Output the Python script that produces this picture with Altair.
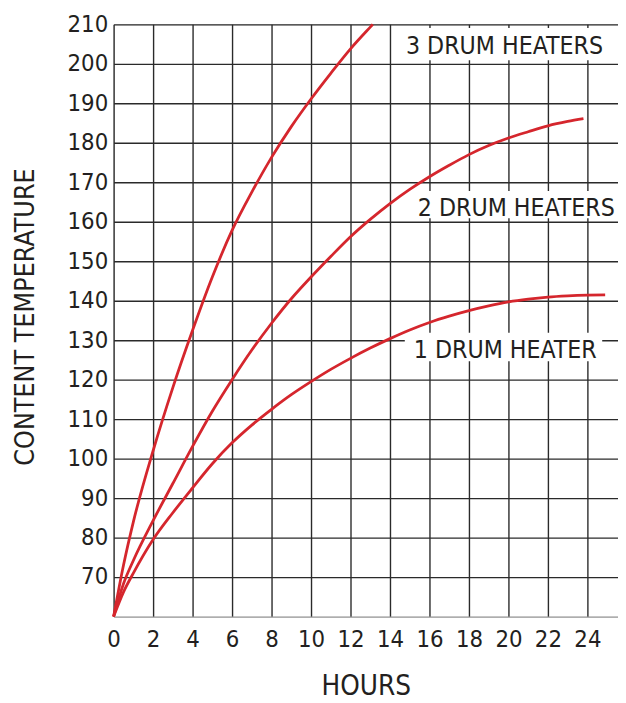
import altair as alt
import pandas as pd

FONT = "DejaVu Sans Condensed, Liberation Sans Narrow, sans-serif"
RED = "#d5262d"
INK = "#231f20"
GRID = "#2a2a2a"

# --- data ---
hours_3 = [0, 0.5, 1, 2, 3, 4, 5, 6, 7, 8, 9, 10, 11, 12, 13, 13.13]
temp_3 = [60, 73, 84, 102, 118, 132.5, 146, 157.8, 167.5, 176.3, 184.1, 191.1, 197.6, 203.8, 209.3, 210]

hours_2 = [0, 0.5, 1, 2, 3, 4, 5, 6, 7, 8, 9, 10, 11, 12, 13, 14, 15, 16, 17, 18, 19, 20, 21, 22, 23, 23.8]
temp_2 = [60, 68.3, 74.2, 84.3, 93.7, 103.1, 112, 120, 127.5, 134.3, 140.5, 146, 151.2, 156.2, 160.6,
          164.6, 168.2, 171.4, 174.3, 177, 179.3, 181.2, 182.8, 184.3, 185.4, 186.1]

hours_1 = [0, 0.5, 1, 2, 3, 4, 5, 6, 7, 8, 9, 10, 11, 12, 13, 14, 15, 16, 17, 18, 19, 20, 21, 22, 23, 24, 24.9]
temp_1 = [60, 66.2, 71, 79.5, 86.3, 92.6, 98.7, 104, 108.5, 112.5, 116.2, 119.5, 122.6, 125.4, 128,
          130.4, 132.6, 134.5, 136.1, 137.5, 138.7, 139.7, 140.4, 140.9, 141.2, 141.4, 141.5]

series_names = ["3 DRUM HEATERS", "2 DRUM HEATERS", "1 DRUM HEATER"]
x_ticks = list(range(0, 25, 2))
y_ticks = list(range(70, 211, 10))

# label anchors (data coords) and white boxes behind them
label_hours = [19.8, 20.4, 19.84]
label_temp = [202.4, 161.5, 125.4]
box_h1 = [14.6, 15.25, 14.75]
box_h2 = [25.0, 25.55, 24.75]
box_t1 = [200.9, 160.9, 124.7]
box_t2 = [209.1, 167.8, 131.9]

rows = []
for name, hs, ts in zip(series_names, [hours_3, hours_2, hours_1], [temp_3, temp_2, temp_1]):
    for h, t in zip(hs, ts):
        rows.append({"series": name, "hours": h, "temp": t})
df = pd.DataFrame(rows)

labels = pd.DataFrame({"text": series_names, "hours": label_hours, "temp": label_temp})
boxes = pd.DataFrame({"h1": box_h1, "h2": box_h2, "t1": box_t1, "t2": box_t2})

x_scale = alt.Scale(domain=[0, 25.55], nice=False, zero=False)
y_scale = alt.Scale(domain=[60, 210], nice=False, zero=False)

x_axis = alt.Axis(
    values=x_ticks, title="HOURS", grid=True, gridColor=GRID, gridWidth=1.4, gridOpacity=1,
    domain=True, domainColor="#9a9a9a", domainWidth=1.4, ticks=False,
    labelFont=FONT, labelFontSize=24, labelColor=INK, labelPadding=11,
    labelFlush=False, labelOverlap=False,
    titleFont=FONT, titleFontSize=28, titleFontWeight="normal", titleColor=INK,
    titleY=71, titleBaseline="middle",
)
y_axis = alt.Axis(
    values=y_ticks, title="CONTENT TEMPERATURE", grid=True, gridColor=GRID, gridWidth=1.4, gridOpacity=1,
    domain=False, ticks=False,
    labelFont=FONT, labelFontSize=24, labelColor=INK, labelPadding=6, labelOverlap=False,
    titleFont=FONT, titleFontSize=27, titleFontWeight="normal", titleColor=INK,
    titleAngle=270, titleX=-89, titleY=296, titleAlign="center", titleBaseline="middle",
)

lines = alt.Chart(df).mark_line(color=RED, strokeWidth=2.8, interpolate="monotone").encode(
    x=alt.X("hours:Q", scale=x_scale, axis=x_axis),
    y=alt.Y("temp:Q", scale=y_scale, axis=y_axis),
    detail="series:N",
    order="hours:Q",
)

rects = alt.Chart(boxes).mark_rect(color="white").encode(
    x=alt.X("h1:Q", scale=x_scale),
    x2="h2:Q",
    y=alt.Y("t1:Q", scale=y_scale),
    y2="t2:Q",
)

texts = alt.Chart(labels).mark_text(
    font=FONT, fontSize=25, color=INK, align="center", baseline="alphabetic"
).encode(
    x=alt.X("hours:Q", scale=x_scale),
    y=alt.Y("temp:Q", scale=y_scale),
    text="text:N",
)

chart = alt.layer(rects, lines, texts).properties(
    width=511, height=600,
    autosize=alt.AutoSizeParams(type="none"),
    padding={"left": 107, "top": 12, "right": 0, "bottom": 83},
).configure_view(stroke=None).configure(background="white")

chart.save("out.html", embed_options={"renderer": "svg", "actions": False})
